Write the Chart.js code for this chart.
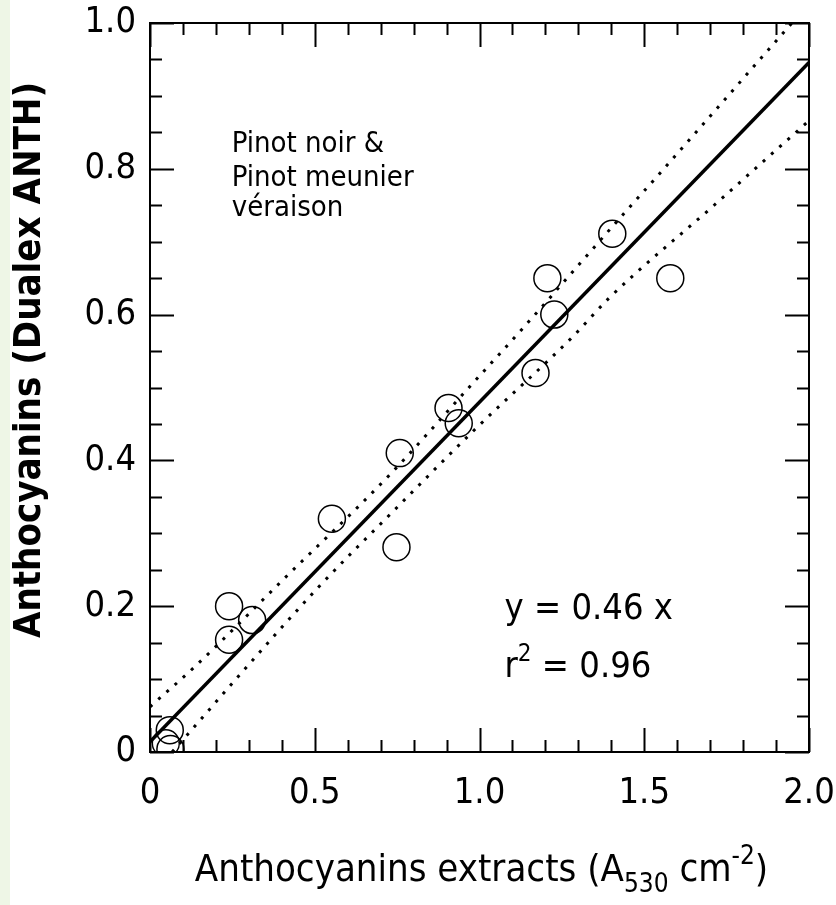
<!DOCTYPE html>
<html>
<head>
<meta charset="utf-8">
<script src="https://cdn.jsdelivr.net/npm/chart.js@4.4.1/dist/chart.umd.min.js"></script>
<style>
  html, body { margin: 0; padding: 0; background: #ffffff; }
  #wrap { position: relative; width: 836px; height: 905px; }
  canvas { display: block; }
</style>
</head>
<body>
<div id="wrap"><canvas id="c" width="836" height="905"></canvas></div>
<script>
// ---- data ----
const sampleX = [0.06, 0.048, 0.062, 0.24, 0.24, 0.31, 0.552, 0.748, 0.758, 0.906, 0.937, 1.17, 1.206, 1.227, 1.403, 1.579];
const sampleY = [0.030, 0.012, 0.004, 0.200, 0.154, 0.181, 0.320, 0.281, 0.410, 0.472, 0.451, 0.520, 0.650, 0.600, 0.711, 0.650];

const fitX = [0, 2.0];
const fitY = [0.014, 0.946];

const upperX = [0, 0.136, 0.403, 0.727, 0.970, 1.127, 1.439, 1.530, 1.948];
const upperY = [0.062, 0.117, 0.236, 0.380, 0.501, 0.579, 0.739, 0.785, 1.0];

const lowerX = [0.067, 0.112, 0.264, 0.509, 0.742, 0.985, 1.288, 1.394, 1.712, 2.0];
const lowerY = [0.0, 0.023, 0.1015, 0.225, 0.332, 0.442, 0.572, 0.623, 0.750, 0.866];

const xTickValues = [0, 0.5, 1.0, 1.5, 2.0];
const xTickLabels = ["0", "0.5", "1.0", "1.5", "2.0"];
const yTickValues = [0, 0.2, 0.4, 0.6, 0.8, 1.0];
const yTickLabels = ["0", "0.2", "0.4", "0.6", "0.8", "1.0"];
const xMinorTicks = [0.1,0.2,0.3,0.4,0.6,0.7,0.8,0.9,1.1,1.2,1.3,1.4,1.6,1.7,1.8,1.9];
const yMinorTicks = [0.05,0.1,0.15,0.25,0.3,0.35,0.45,0.5,0.55,0.65,0.7,0.75,0.85,0.9,0.95];

const xTitleParts = [["Anthocyanins extracts (A", "n"], ["530", "sub"], [" cm", "n"], ["-2", "sup"], [")", "n"]];
const yTitle = "Anthocyanins (Dualex ANTH)";
const noteLines = ["Pinot noir &", "Pinot meunier", "véraison"];
const eqLine = "y = 0.46 x";
const r2Parts = [["r", "n"], ["2", "sup"], [" = 0.96", "n"]];

const FONT = '"DejaVu Sans Condensed", "DejaVu Sans", sans-serif';

function pairs(xs, ys) { return xs.map((x, i) => ({ x: x, y: ys[i] })); }
function labelFor(values, labels, v) {
  const i = values.findIndex(t => Math.abs(t - v) < 1e-9);
  return i >= 0 ? labels[i] : '';
}

function drawParts(ctx, parts, x, y, size, align) {
  const widths = parts.map(p => {
    ctx.font = (p[1] === 'n' ? size : Math.round(size * 0.68)) + 'px ' + FONT;
    return ctx.measureText(p[0]).width;
  });
  const total = widths.reduce((a, b) => a + b, 0);
  let cx = align === 'center' ? x - total / 2 : x;
  parts.forEach((p, i) => {
    const s = p[1] === 'n' ? size : Math.round(size * 0.68);
    ctx.font = s + 'px ' + FONT;
    let dy = 0;
    if (p[1] === 'sub') dy = size * 0.28;
    if (p[1] === 'sup') dy = -size * 0.45;
    ctx.fillText(p[0], cx, y + dy);
    cx += widths[i];
  });
}

const decor = {
  id: 'decor',
  beforeDraw(chart) {
    const ctx = chart.ctx;
    ctx.save();
    ctx.fillStyle = '#ffffff';
    ctx.fillRect(0, 0, chart.width, chart.height);
    ctx.fillStyle = '#eef6e6';
    ctx.fillRect(0, 0, 10, chart.height);
    ctx.restore();
  },
  afterDraw(chart) {
    const ctx = chart.ctx;
    const a = chart.chartArea;
    const xs = chart.scales.x, ys = chart.scales.y;
    ctx.save();
    ctx.strokeStyle = '#000';
    ctx.lineWidth = 2;
    ctx.strokeRect(a.left, a.top, a.right - a.left, a.bottom - a.top);
    ctx.beginPath();
    const majL = 24, minL = 12;
    xTickValues.concat(xMinorTicks).forEach((v, i) => {
      const L = i < xTickValues.length ? majL : minL;
      const px = Math.round(xs.getPixelForValue(v)) + 0.5;
      ctx.moveTo(px, a.bottom); ctx.lineTo(px, a.bottom - L);
      ctx.moveTo(px, a.top); ctx.lineTo(px, a.top + L);
    });
    yTickValues.concat(yMinorTicks).forEach((v, i) => {
      const L = i < yTickValues.length ? majL : minL;
      const py = Math.round(ys.getPixelForValue(v)) + 0.5;
      ctx.moveTo(a.left, py); ctx.lineTo(a.left + L, py);
      ctx.moveTo(a.right, py); ctx.lineTo(a.right - L, py);
    });
    ctx.stroke();

    ctx.fillStyle = '#000';
    ctx.textBaseline = 'alphabetic';
    ctx.textAlign = 'left';
    // notes
    ctx.font = '29px ' + FONT;
    const nx = xs.getPixelForValue(0.248);
    const nBase = [ys.getPixelForValue(0.823), ys.getPixelForValue(0.776), ys.getPixelForValue(0.735)];
    noteLines.forEach((t, i) => ctx.fillText(t, nx, nBase[i]));
    // equation
    const ex = xs.getPixelForValue(1.076);
    ctx.font = '36px ' + FONT;
    ctx.fillText(eqLine, ex, ys.getPixelForValue(0.183));
    drawParts(ctx, r2Parts, ex, ys.getPixelForValue(0.103), 36, 'left');
    // x title
    drawParts(ctx, xTitleParts, (a.left + a.right) / 2 + 2, 881, 38, 'center');
    // y title
    ctx.save();
    ctx.translate(40, 360);
    ctx.rotate(-Math.PI / 2);
    ctx.textAlign = 'center';
    ctx.font = 'bold 38px ' + FONT;
    ctx.fillText(yTitle, 0, 0);
    ctx.restore();
    ctx.restore();
  }
};

new Chart(document.getElementById('c'), {
  type: 'scatter',
  data: {
    datasets: [
      { label: 'samples', data: pairs(sampleX, sampleY), showLine: false,
        pointStyle: 'circle', pointRadius: 13.5, pointBorderWidth: 1.5,
        pointBorderColor: '#000', pointBackgroundColor: 'rgba(0,0,0,0)', order: 0 },
      { label: 'fit', data: pairs(fitX, fitY), showLine: true, pointRadius: 0,
        borderColor: '#000', borderWidth: 3.5, order: 1 },
      { label: 'upper', data: pairs(upperX, upperY), showLine: true, pointRadius: 0,
        borderColor: '#000', borderWidth: 3, borderDash: [3, 8], borderCapStyle: 'butt',
        cubicInterpolationMode: 'monotone', order: 2 },
      { label: 'lower', data: pairs(lowerX, lowerY), showLine: true, pointRadius: 0,
        borderColor: '#000', borderWidth: 3, borderDash: [3, 8], borderCapStyle: 'butt',
        cubicInterpolationMode: 'monotone', order: 2 }
    ]
  },
  options: {
    responsive: false,
    animation: false,
    devicePixelRatio: 1,
    layout: { padding: { top: 23, right: 27, left: 0, bottom: 0 } },
    plugins: { legend: { display: false }, tooltip: { enabled: false } },
    scales: {
      x: {
        type: 'linear', min: 0, max: 2.0, position: 'bottom',
        grid: { display: false, drawTicks: false },
        border: { display: false },
        afterBuildTicks: s => { s.ticks = xTickValues.map(v => ({ value: v })); },
        afterFit: s => { s.height = 153; s.paddingLeft = 0; s.paddingRight = 0; },
        ticks: {
          color: '#000', padding: 20, maxRotation: 0,
          font: { family: FONT, size: 36 },
          callback: v => labelFor(xTickValues, xTickLabels, v)
        }
      },
      y: {
        type: 'linear', min: 0, max: 1.0,
        grid: { display: false, drawTicks: false },
        border: { display: false },
        afterBuildTicks: s => { s.ticks = yTickValues.map(v => ({ value: v })); },
        afterFit: s => { s.width = 150; s.paddingTop = 0; s.paddingBottom = 0; },
        ticks: {
          color: '#000', padding: 14,
          font: { family: FONT, size: 36 },
          callback: v => labelFor(yTickValues, yTickLabels, v)
        }
      }
    }
  },
  plugins: [decor]
});
</script>
</body>
</html>
